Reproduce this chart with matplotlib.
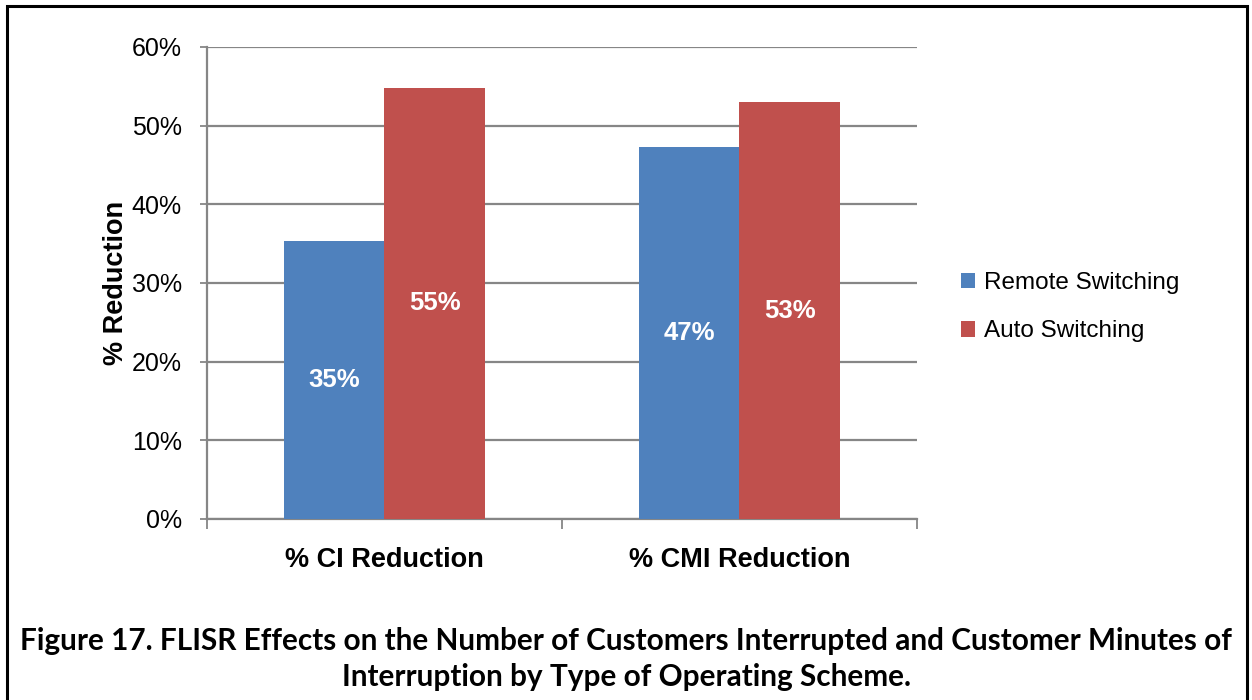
#!/usr/bin/env python3
"""FLISR effects on CI and CMI by operating scheme."""

import matplotlib.pyplot as plt
import numpy as np
from matplotlib.patches import Rectangle
from matplotlib.ticker import PercentFormatter

CATEGORIES = ["% CI Reduction", "% CMI Reduction"]
SERIES = ["Remote Switching", "Auto Switching"]
REMOTE = [35.3, 47.3]
AUTO = [54.8, 53.0]
BAR_LABELS_REMOTE = ["35%", "47%"]
BAR_LABELS_AUTO = ["55%", "53%"]
COLORS = ["#4F81BD", "#C0504D"]

SANS = ["Liberation Sans", "DejaVu Sans"]

fig = plt.figure(figsize=(12.52, 7.0), dpi=100)
ax = fig.add_axes([0.1653, 0.2586, 0.7324 - 0.1653, 0.9329 - 0.2586])

x = np.arange(len(CATEGORIES))
width = 0.282
grid_c = "#868686"

b1 = ax.bar(x - width / 2, REMOTE, width, color=COLORS[0], label=SERIES[0], zorder=3)
b2 = ax.bar(x + width / 2, AUTO, width, color=COLORS[1], label=SERIES[1], zorder=3)

for bars, labels in ((b1, BAR_LABELS_REMOTE), (b2, BAR_LABELS_AUTO)):
    for rect, lab in zip(bars, labels):
        ax.text(rect.get_x() + rect.get_width() / 2, rect.get_height() / 2, lab,
                ha="center", va="center", color="white", fontsize=18.5,
                fontweight="bold", family=SANS, zorder=4)

ax.set_xlim(-0.5, 1.5)
ax.set_ylim(0, 60)
ax.set_yticks(np.arange(0, 61, 10))
ax.yaxis.set_major_formatter(PercentFormatter(decimals=0))
ax.grid(axis="y", color=grid_c, linewidth=1.6, zorder=0)

# category boundaries get the tick marks, names sit on minor ticks
ax.set_xticks([-0.5, 0.5, 1.5], minor=False)
ax.set_xticklabels([])
ax.set_xticks(x, minor=True)
ax.set_xticklabels(CATEGORIES, minor=True, fontsize=19.5, fontweight="bold", family=SANS)
ax.tick_params(axis="x", which="minor", length=0, pad=20)
ax.tick_params(axis="x", which="major", length=7, width=1.3, color=grid_c)
ax.tick_params(axis="y", length=5, width=1.3, color=grid_c, labelsize=18, pad=13)
for lab in ax.get_yticklabels():
    lab.set_family(SANS)

for side in ("top", "right"):
    ax.spines[side].set_visible(False)
for side in ("left", "bottom"):
    ax.spines[side].set_color(grid_c)
    ax.spines[side].set_linewidth(1.6)

ax.set_ylabel("% Reduction", fontsize=19.5, fontweight="bold", family=SANS, labelpad=2)

fig.legend(handles=[b1, b2], labels=SERIES, loc="center left",
           bbox_to_anchor=(0.750, 0.561), frameon=False, prop={"family": SANS, "size": 17.5},
           handlelength=0.6, handleheight=0.6, handletextpad=0.35, labelspacing=1.08)

fig.text(0.5, 0.0585,
         "Figure 17. FLISR Effects on the Number of Customers Interrupted and Customer Minutes of\n"
         "Interruption by Type of Operating Scheme.",
         ha="center", va="center", fontsize=21.4, fontweight="bold",
         family=["Lato", "DejaVu Sans"], linespacing=1.33)

fig.patches.append(Rectangle((7 / 1252, -0.05), 1240 / 1252, 1.05 - 6 / 700,
                             transform=fig.transFigure, fill=False,
                             edgecolor="black", linewidth=2.2))

fig.savefig("out.png", dpi=100)
